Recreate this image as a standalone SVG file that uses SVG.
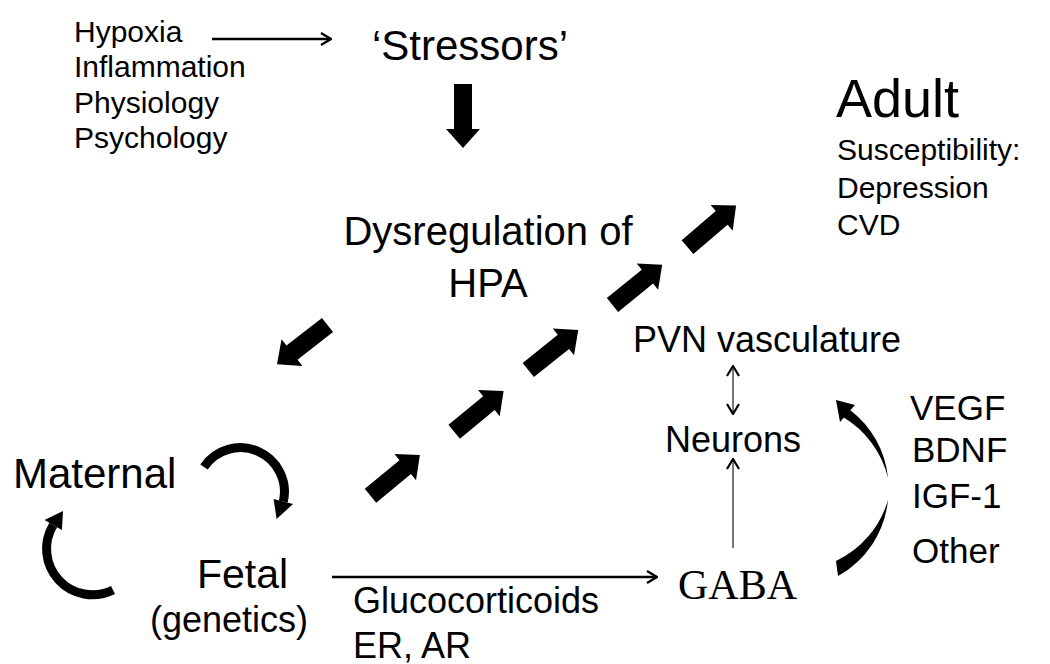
<svg xmlns="http://www.w3.org/2000/svg" width="1050" height="664" viewBox="0 0 1050 664">
<style>
text{font-family:"Liberation Sans",Arial,sans-serif;fill:#000}
.serif{font-family:"Liberation Serif","Times New Roman",serif}
.thin{stroke:#000;fill:none}
.arc{stroke:#000;fill:none;stroke-width:9}
</style>
<defs>
<path id="block" d="M0,-9 L45,-9 L45,-17 L64,0 L45,17 L45,9 L0,9 Z" fill="#000"/>
<marker id="chev" viewBox="0 0 12 14" refX="11" refY="7" markerWidth="12" markerHeight="14" markerUnits="userSpaceOnUse" orient="auto-start-reverse">
<path d="M1,1 L11,7 L1,13" fill="none" stroke="#000" stroke-width="2.2"/>
</marker>
</defs>
<rect width="1050" height="664" fill="#fff"/>

<g id="connectors">
<line class="thin" x1="212" y1="39" x2="331" y2="39" stroke-width="2.5" marker-end="url(#chev)"/>
<use href="#block" transform="translate(463,84) rotate(90)"/>
<use href="#block" transform="translate(370.5,495.8) rotate(-39.5)"/>
<use href="#block" transform="translate(454.2,431.7) rotate(-39.5)"/>
<use href="#block" transform="translate(528.3,370) rotate(-38.7)"/>
<use href="#block" transform="translate(612.5,305) rotate(-39.1)"/>
<use href="#block" transform="translate(687.5,247.2) rotate(-40.6)"/>
<use href="#block" transform="translate(327.5,325) rotate(142.1)"/>
<line class="thin" x1="332" y1="577" x2="657" y2="577" stroke-width="2.6" marker-end="url(#chev)"/>
<line x1="733" y1="548" x2="733" y2="459" stroke="#555" stroke-width="1.6" marker-end="url(#chev)"/>
<line x1="733" y1="366" x2="733" y2="414" stroke="#555" stroke-width="1.6" marker-start="url(#chev)" marker-end="url(#chev)"/>
<path class="arc" d="M204,467 A44,44 0 0 1 283.3,501.6"/>
<path d="M293,504 L273.6,499 L276.6,519 Z" fill="#000"/>
<path class="arc" d="M113,590 A46,46 0 0 1 53.2,525"/>
<path d="M61.9,530 L44.5,520 L63,511 Z" fill="#000"/>
<path d="M888,478 A97,97 0 0 0 850,410 L843,417 A97.5,97.5 0 0 1 888,478 Z" fill="#000"/>
<path d="M836,400 L855,405 L840,422 Z" fill="#000"/>
<path d="M888,500 A98,98 0 0 1 838,576 L836,561 A97.5,97.5 0 0 0 888,500 Z" fill="#000"/>
</g>

<g id="causes"><text x="74" y="42" font-size="30">Hypoxia</text><text x="74" y="77" font-size="30">Inflammation</text><text x="74" y="113" font-size="30">Physiology</text><text x="74" y="148" font-size="30">Psychology</text></g>
<g id="stressors"><text x="372" y="60" font-size="42">&#8216;Stressors&#8217;</text></g>
<g id="hpa"><text x="488" y="245" font-size="40" text-anchor="middle">Dysregulation of</text><text x="488" y="297" font-size="40" text-anchor="middle">HPA</text></g>
<g id="adult"><text x="836" y="117" font-size="54">Adult</text><text x="837" y="160" font-size="30">Susceptibility:</text><text x="837" y="198" font-size="30">Depression</text><text x="837" y="235" font-size="30">CVD</text></g>
<g id="pvn"><text x="633" y="352" font-size="36">PVN vasculature</text></g>
<g id="neurons"><text x="665" y="452" font-size="36">Neurons</text></g>
<g id="gaba"><text class="serif" x="678" y="599" font-size="42">GABA</text></g>
<g id="factors"><text x="910" y="420" font-size="35">VEGF</text><text x="912" y="462" font-size="35">BDNF</text><text x="912" y="508" font-size="35">IGF-1</text><text x="912" y="563" font-size="35">Other</text></g>
<g id="maternal"><text x="13" y="488" font-size="42">Maternal</text></g>
<g id="fetal"><text x="197" y="588" font-size="41">Fetal</text><text x="150" y="632" font-size="36">(genetics)</text></g>
<g id="signals"><text x="353" y="613" font-size="36">Glucocorticoids</text><text x="353" y="658" font-size="36">ER, AR</text></g>
</svg>
